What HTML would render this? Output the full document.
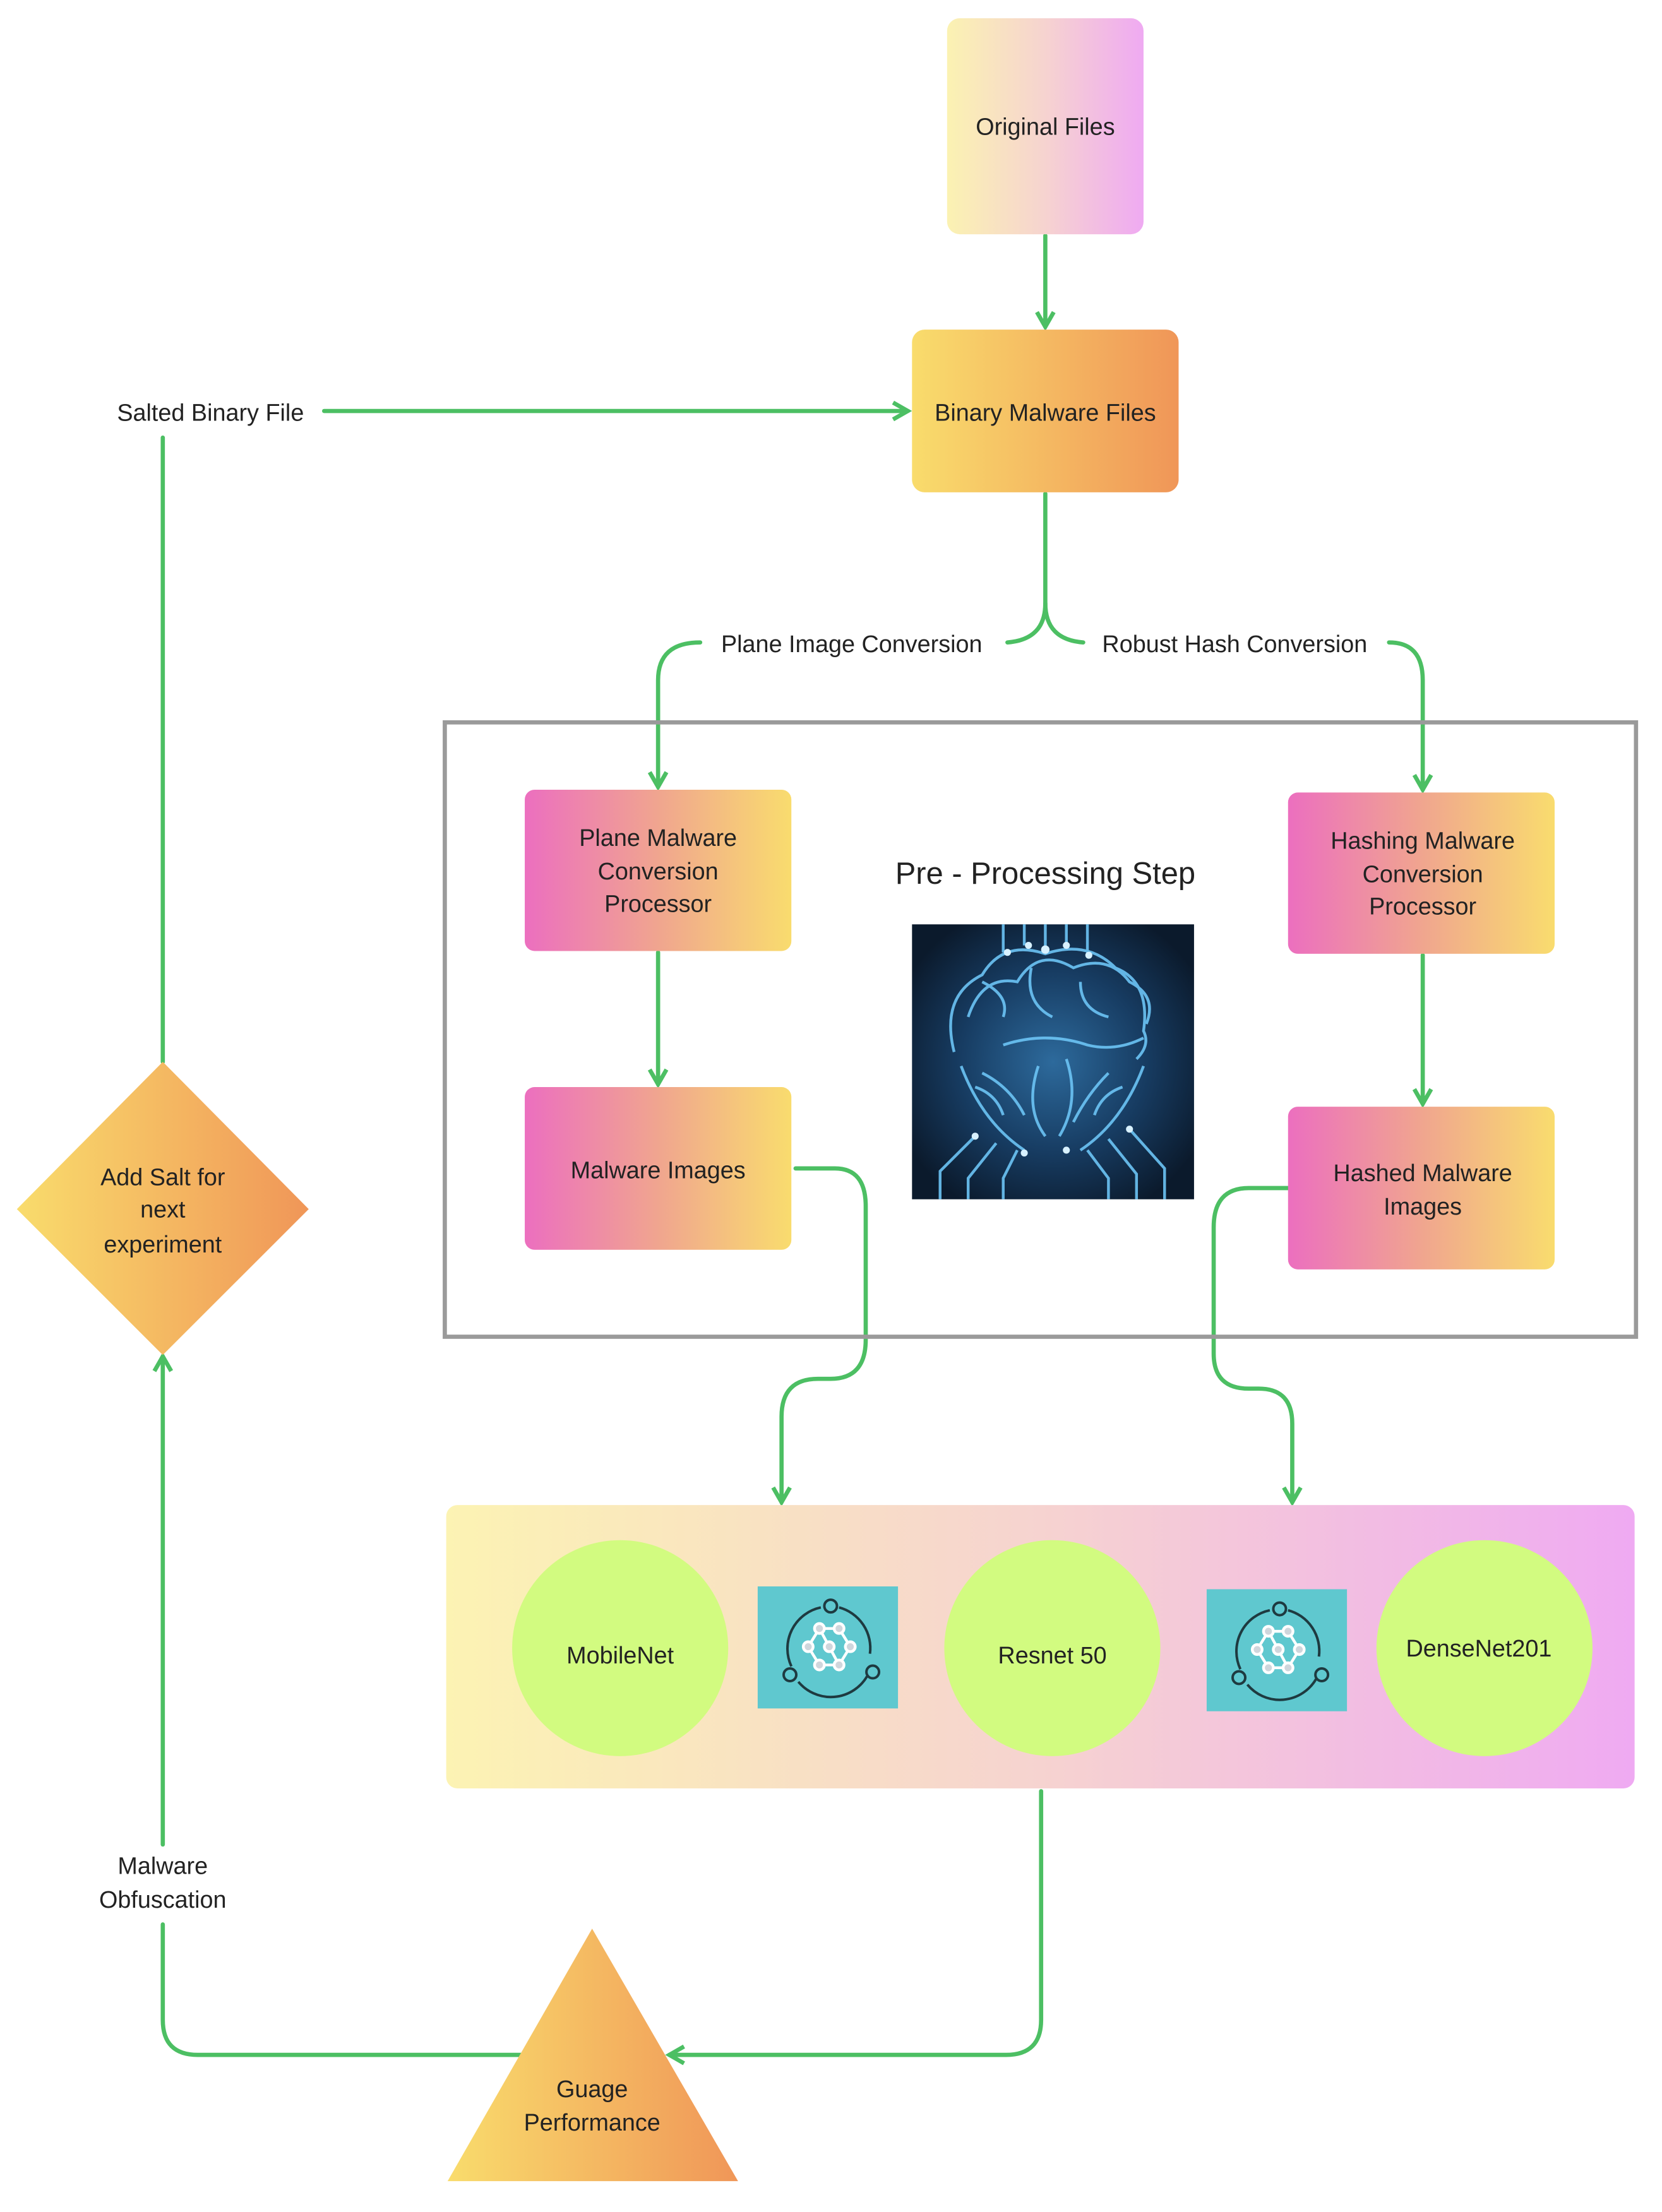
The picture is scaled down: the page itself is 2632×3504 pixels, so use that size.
<!DOCTYPE html>
<html><head><meta charset="utf-8"><style>
html,body{margin:0;padding:0;background:#fff;}
svg{display:block;}
text{font-family:"Liberation Sans",sans-serif;fill:#222;}
</style></head><body>
<svg width="2632" height="3504" viewBox="0 0 1184.5 1577" xmlns="http://www.w3.org/2000/svg">
<defs>
<linearGradient id="gOrig" x1="0" x2="1" y1="0" y2="0"><stop offset="0" stop-color="#fbf2b2"/><stop offset="0.5" stop-color="#f6d3d0"/><stop offset="1" stop-color="#efaaf2"/></linearGradient>
<linearGradient id="gBin" x1="0" x2="1"><stop offset="0" stop-color="#f9dc6c"/><stop offset="1" stop-color="#f09658"/></linearGradient>
<linearGradient id="gPink" x1="0" x2="1"><stop offset="0" stop-color="#ec6fbf"/><stop offset="0.5" stop-color="#f0a58f"/><stop offset="1" stop-color="#f9dc6e"/></linearGradient>
<linearGradient id="gBand" x1="0" x2="1"><stop offset="0" stop-color="#fcf3b3"/><stop offset="0.5" stop-color="#f6d3d0"/><stop offset="1" stop-color="#efaaf2"/></linearGradient>
<radialGradient id="gBrain" cx="0.5" cy="0.5" r="0.6"><stop offset="0" stop-color="#2d6a9c"/><stop offset="0.55" stop-color="#173c62"/><stop offset="1" stop-color="#0b1a2c"/></radialGradient>
<marker id="ah" viewBox="0 0 10 10" refX="8" refY="5" markerWidth="5" markerHeight="5" orient="auto-start-reverse"><path d="M1,1 L8,5 L1,9" fill="none" stroke="#4cbf63" stroke-width="2"/></marker>
</defs>

<g fill="none" stroke="#4cbf63" stroke-width="3" stroke-linecap="round">
<path d="M745,168 V233" marker-end="url(#ah)"/>
<path d="M231,293 H647" marker-end="url(#ah)"/>
<path d="M116,312 V757"/>
<path d="M745,352 V430 Q745,456 718,458"/>
<path d="M745,430 Q745,456 772,458"/>
<path d="M499,458 Q469,458 469,485 V561" marker-end="url(#ah)"/>
<path d="M990,458 Q1014,458 1014,485 V563" marker-end="url(#ah)"/>
<path d="M469,679 V773" marker-end="url(#ah)"/>
<path d="M1014,681 V787" marker-end="url(#ah)"/>
<path d="M567,833 H595 Q617,833 617,860 V955 Q617,983 592,983 H583 Q557,983 557,1010 V1071" marker-end="url(#ah)"/>
<path d="M918,847 H890 Q865,847 865,875 V965 Q865,990 890,990 H897 Q921,990 921,1015 V1071" marker-end="url(#ah)"/>
<path d="M116,1315 V967" marker-end="url(#ah)"/>
<path d="M116,1372 V1440 Q116,1465 141,1465 H372"/>
<path d="M742,1277 V1440 Q742,1465 717,1465 H477" marker-end="url(#ah)"/>
</g>

<rect x="675" y="13" width="140" height="154" rx="9" fill="url(#gOrig)"/>
<text x="745" y="96" font-size="17" text-anchor="middle">Original Files</text>

<rect x="650" y="235" width="190" height="116" rx="9" fill="url(#gBin)"/>
<text x="745" y="300" font-size="17" text-anchor="middle">Binary Malware Files</text>

<text x="150" y="300" font-size="17" text-anchor="middle">Salted Binary File</text>
<text x="607" y="465" font-size="17" text-anchor="middle">Plane Image Conversion</text>
<text x="880" y="465" font-size="17" text-anchor="middle">Robust Hash Conversion</text>

<rect x="317" y="515" width="849" height="438" fill="none" stroke="#9a9a9a" stroke-width="3"/>

<rect x="374" y="563" width="190" height="115" rx="7" fill="url(#gPink)"/>
<text font-size="17" text-anchor="middle"><tspan x="469" y="603">Plane Malware</tspan><tspan x="469" y="627">Conversion</tspan><tspan x="469" y="650">Processor</tspan></text>

<rect x="374" y="775" width="190" height="116" rx="7" fill="url(#gPink)"/>
<text x="469" y="840" font-size="17" text-anchor="middle">Malware Images</text>

<rect x="918" y="565" width="190" height="115" rx="7" fill="url(#gPink)"/>
<text font-size="17" text-anchor="middle"><tspan x="1014" y="605">Hashing Malware</tspan><tspan x="1014" y="629">Conversion</tspan><tspan x="1014" y="652">Processor</tspan></text>

<rect x="918" y="789" width="190" height="116" rx="7" fill="url(#gPink)"/>
<text font-size="17" text-anchor="middle"><tspan x="1014" y="842">Hashed Malware</tspan><tspan x="1014" y="866">Images</tspan></text>

<text x="745" y="630" font-size="22" text-anchor="middle">Pre - Processing Step</text>

<rect x="650" y="659" width="201" height="196" fill="url(#gBrain)"/>
<g fill="none" stroke="#6cc4f5" stroke-width="2" opacity="0.9">
<path d="M680,750 q-10,-40 20,-55 q15,-25 45,-15 q30,-10 50,10 q25,10 20,45 q5,10 -5,20"/>
<path d="M690,725 q10,-30 35,-25 q15,-25 40,-10 q25,-10 40,10 q20,10 12,30"/>
<path d="M700,700 q20,10 15,25 M735,690 q-5,25 15,35 M770,700 q0,20 20,25 M715,745 q30,-10 60,0 q20,5 40,-5"/>
<path d="M685,760 q15,40 45,60 M815,760 q-15,40 -45,60 M695,775 q15,5 20,20 M800,775 q-15,5 -20,20"/>
<path d="M740,760 q-10,30 5,50 M760,755 q10,30 -5,55 M700,765 q20,10 30,30 M790,765 q-15,15 -25,35"/>
<path d="M695,810 l-25,25 v20 M710,815 l-20,25 v15 M725,820 l-10,20 v15 M775,820 l15,20 v15 M790,812 l20,25 v18 M805,805 l25,28 v22"/>
<path d="M715,659 v20 M730,659 v15 M745,659 v18 M760,659 v15 M775,659 v22"/>
</g>
<g fill="#d8f1ff"><circle cx="718" cy="679" r="2.5"/><circle cx="745" cy="677" r="3"/><circle cx="760" cy="674" r="2.5"/><circle cx="776" cy="681" r="2.5"/><circle cx="733" cy="674" r="2.5"/><circle cx="695" cy="810" r="2.5"/><circle cx="805" cy="805" r="2.5"/><circle cx="760" cy="820" r="2.5"/><circle cx="730" cy="822" r="2.5"/></g>

<polygon points="116,757 220,862 116,966 12,862" fill="url(#gBin)"/>
<text font-size="17" text-anchor="middle"><tspan x="116" y="845">Add Salt for</tspan><tspan x="116" y="868">next</tspan><tspan x="116" y="893">experiment</tspan></text>

<rect x="318" y="1073" width="847" height="202" rx="8" fill="url(#gBand)"/>
<ellipse cx="442" cy="1175" rx="77" ry="77" fill="#d2fb80"/>
<ellipse cx="750" cy="1175" rx="77" ry="77" fill="#d2fb80"/>
<ellipse cx="1058" cy="1175" rx="77" ry="77" fill="#d2fb80"/>
<text x="442" y="1186" font-size="17" text-anchor="middle">MobileNet</text>
<text x="750" y="1186" font-size="17" text-anchor="middle">Resnet 50</text>
<text x="1054" y="1181" font-size="17" text-anchor="middle">DenseNet201</text>

<g transform="translate(540,1131)">
<rect width="100" height="87" fill="#5fc8cf"/>
<g fill="none" stroke="#1e3a40" stroke-width="1.8">
<path d="M24,57 A30,30 0 0 1 45,15"/><path d="M58,15 A30,30 0 0 1 80,48"/><path d="M78,64 A30,30 0 0 1 29,68"/>
<circle cx="52" cy="14" r="4.5"/><circle cx="23" cy="63" r="4.5"/><circle cx="82" cy="61" r="4.5"/>
</g>
<g stroke="#fff" stroke-width="2" fill="#cfd6dc">
<path d="M44,30 L58,30 L66,43 L58,56 L44,56 L36,43 Z M51,43 L44,30 M51,43 L58,56" fill="none"/>
<circle cx="44" cy="30" r="3.5"/><circle cx="58" cy="30" r="3.5"/><circle cx="36" cy="43" r="3.5"/><circle cx="66" cy="43" r="3.5"/><circle cx="51" cy="43" r="3.5"/><circle cx="44" cy="56" r="3.5"/><circle cx="58" cy="56" r="3.5"/>
</g>
</g>
<g transform="translate(860,1133)">
<rect width="100" height="87" fill="#5fc8cf"/>
<g fill="none" stroke="#1e3a40" stroke-width="1.8">
<path d="M24,57 A30,30 0 0 1 45,15"/><path d="M58,15 A30,30 0 0 1 80,48"/><path d="M78,64 A30,30 0 0 1 29,68"/>
<circle cx="52" cy="14" r="4.5"/><circle cx="23" cy="63" r="4.5"/><circle cx="82" cy="61" r="4.5"/>
</g>
<g stroke="#fff" stroke-width="2" fill="#cfd6dc">
<path d="M44,30 L58,30 L66,43 L58,56 L44,56 L36,43 Z M51,43 L44,30 M51,43 L58,56" fill="none"/>
<circle cx="44" cy="30" r="3.5"/><circle cx="58" cy="30" r="3.5"/><circle cx="36" cy="43" r="3.5"/><circle cx="66" cy="43" r="3.5"/><circle cx="51" cy="43" r="3.5"/><circle cx="44" cy="56" r="3.5"/><circle cx="58" cy="56" r="3.5"/>
</g>
</g>

<text font-size="17" text-anchor="middle"><tspan x="116" y="1336">Malware</tspan><tspan x="116" y="1360">Obfuscation</tspan></text>

<polygon points="422,1375 526,1555 319,1555" fill="url(#gBin)"/>
<text font-size="17" text-anchor="middle"><tspan x="422" y="1495">Guage</tspan><tspan x="422" y="1519">Performance</tspan></text>
</svg>
</body></html>
